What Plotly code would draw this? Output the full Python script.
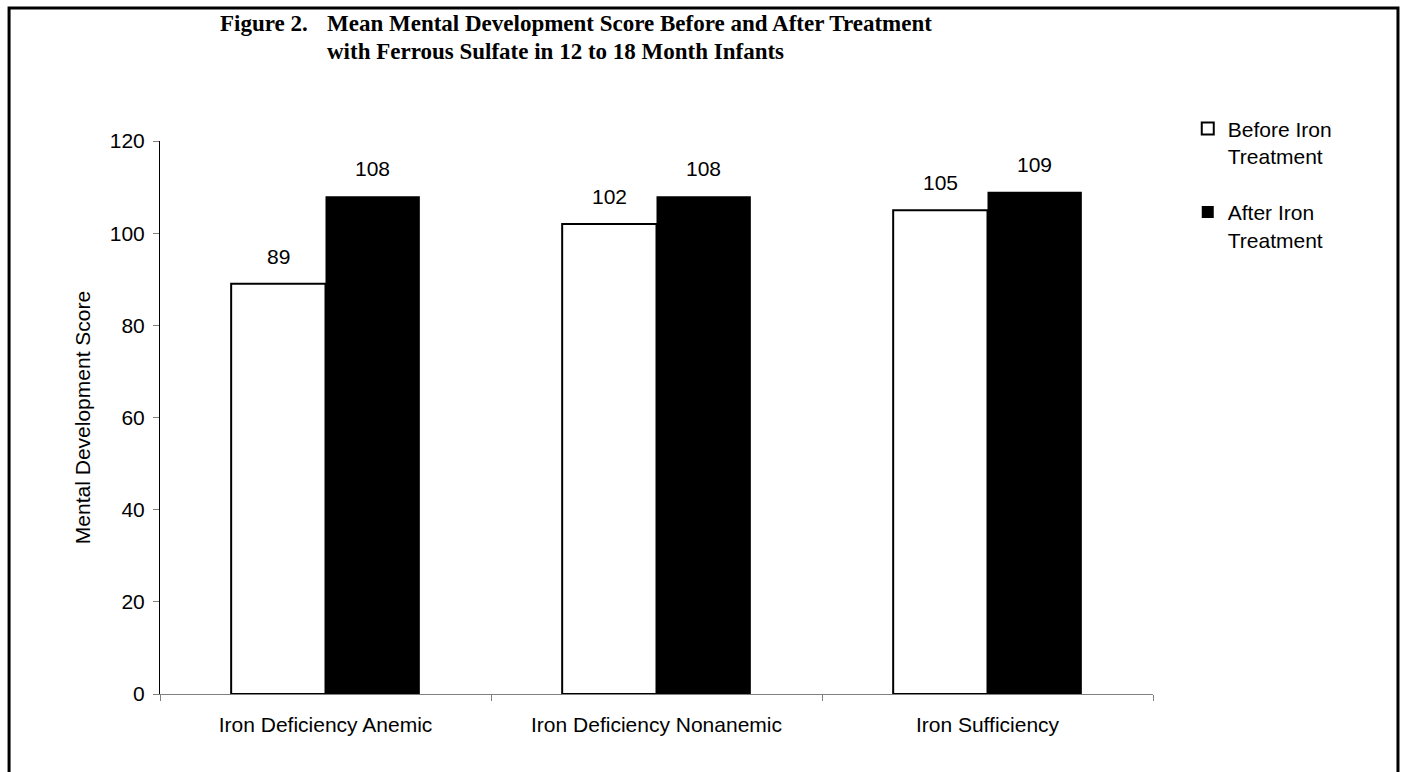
import plotly.graph_objects as go

categories = ["Iron Deficiency Anemic", "Iron Deficiency Nonanemic", "Iron Sufficiency"]
before_vals = [89, 102, 105]
after_vals = [108, 108, 109]
series_names = ["Before Iron<br>Treatment", "After Iron<br>Treatment"]
y_ticks = [0, 20, 40, 60, 80, 100, 120]
title_label = "Figure 2."
title_line1 = "Mean Mental Development Score Before and After Treatment"
title_line2 = "with Ferrous Sulfate in 12 to 18 Month Infants"

BARGAP = 0.43
SANS = "Liberation Sans, Arial, sans-serif"
SERIF = "Liberation Serif, Times New Roman, serif"
FS = 21

fig = go.Figure()
fig.add_trace(go.Bar(
    x=categories, y=before_vals, name=series_names[0], legendgroup="g1",
    marker=dict(color="white", line=dict(color="black", width=2)),
))
fig.add_trace(go.Bar(
    x=categories, y=after_vals, name=series_names[1], legendgroup="g2",
    marker=dict(color="black", line=dict(color="black", width=0)),
))

annotations = []
half = (1 - BARGAP) / 4
for i, (b, a) in enumerate(zip(before_vals, after_vals)):
    for off, v in ((-half, b), (half, a)):
        annotations.append(dict(
            x=i + off, y=v, xref="x", yref="y", text=str(v), showarrow=False,
            yanchor="bottom", yshift=14, font=dict(family=SANS, size=FS, color="black"),
        ))

for txt, xp, yp in ((title_label, 0.0584, 1.2116), (title_line1, 0.1662, 1.2116), (title_line2, 0.1662, 1.161)):
    annotations.append(dict(
        xref="paper", yref="paper", x=xp, y=yp, xanchor="left", yanchor="middle",
        text="<b>" + txt + "</b>", showarrow=False,
        font=dict(family=SERIF, size=23, color="black"),
    ))

fig.update_layout(
    width=1401, height=772,
    margin=dict(l=160, r=248, t=141, b=78),
    paper_bgcolor="white", plot_bgcolor="white",
    barmode="group", bargap=BARGAP, bargroupgap=0,
    font=dict(family=SANS, size=FS, color="black"),
    showlegend=True,
    legend=dict(
        x=1.035, y=1.059, xanchor="left", yanchor="top", valign="top",
        font=dict(family=SANS, size=FS, color="black"),
        itemwidth=30, tracegroupgap=26, bgcolor="rgba(0,0,0,0)",
    ),
    xaxis=dict(
        type="category", categoryarray=categories, range=[-0.5, 2.5],
        tickson="boundaries", ticks="outside", ticklen=6, tickcolor="#808080",
        showline=True, linecolor="#808080", linewidth=1,
        showgrid=False, zeroline=False,
        tickfont=dict(family=SANS, size=FS, color="black"),
        ticklabelstandoff=12,
    ),
    yaxis=dict(
        range=[0, 120], tickvals=y_ticks, ticks="outside", ticklen=6,
        tickcolor="#808080", showline=True, linecolor="black", linewidth=1,
        showgrid=False, zeroline=False,
        tickfont=dict(family=SANS, size=FS, color="black"),
        title=dict(text="Mental Development Score", font=dict(family=SANS, size=21, color="black"), standoff=13),
        ticklabelstandoff=4,
    ),
    xaxis2=dict(
        overlaying="x", range=[-0.5, 2.5], tickvals=[-0.5, 0.5, 1.5, 2.5],
        ticks="inside", ticklen=8, tickcolor="#808080", showticklabels=False,
        showline=False, showgrid=False, zeroline=False, anchor="y",
    ),
    yaxis2=dict(
        overlaying="y", range=[0, 120], tickvals=y_ticks, side="left",
        ticks="inside", ticklen=6, tickcolor="#808080", showticklabels=False,
        showline=False, showgrid=False, zeroline=False, anchor="x",
    ),
    annotations=annotations,
    shapes=[dict(
        type="rect", xref="paper", yref="paper",
        x0=-0.152, x1=1.2467, y0=-0.18, y1=1.2405,
        line=dict(color="black", width=3), fillcolor="rgba(0,0,0,0)", layer="above",
    )],
)

fig.write_html("out.html")
